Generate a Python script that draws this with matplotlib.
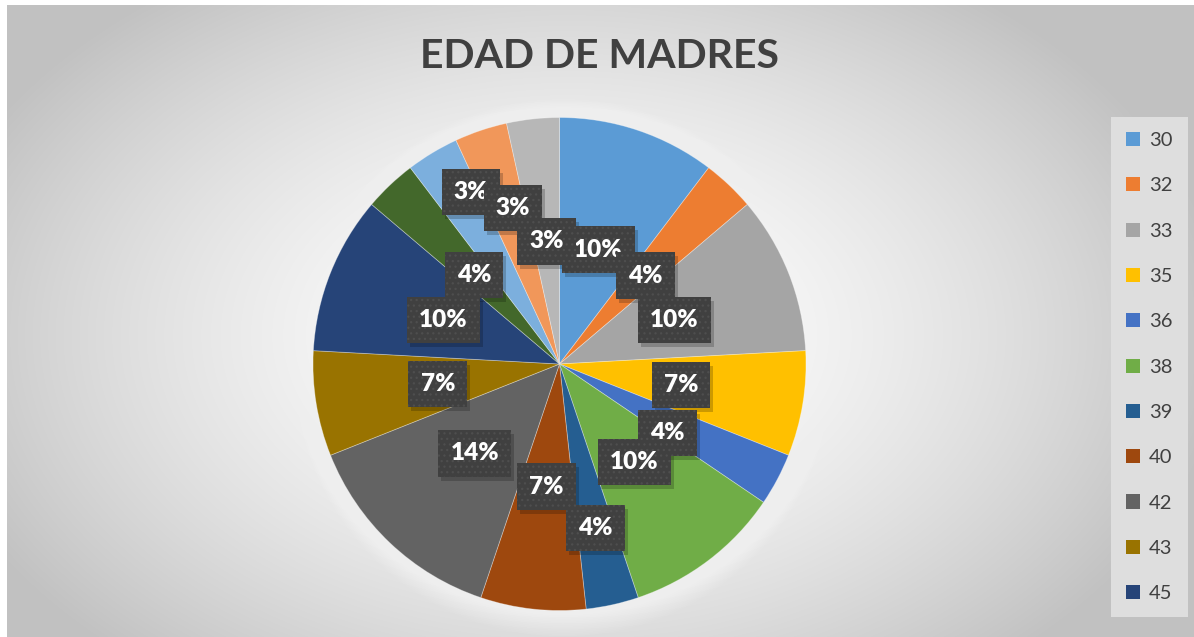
import numpy as np
import matplotlib.pyplot as plt
from matplotlib.patches import Patch, Circle
import matplotlib.transforms as mtransforms

# data (number of mothers per age, 29 in total)
edades = ['30', '32', '33', '35', '36', '38', '39', '40', '42', '43', '45', '46', '47', '48', '49']
madres = [3, 1, 3, 2, 1, 3, 1, 2, 4, 2, 3, 1, 1, 1, 1]
leyenda_visible = 11  # the legend box only shows the first eleven entries

colores = ['#5B9BD5', '#ED7D31', '#A5A5A5', '#FFC000', '#4472C4', '#70AD47',
           '#255E91', '#9E480E', '#636363', '#997300', '#264478', '#43682B',
           '#7CAFDD', '#F1975A', '#B7B7B7']

# label placement ("best fit" look): radial fraction and angle shift in degrees
dist_etiqueta = [0.49, 0.50, 0.50, 0.50, 0.52, 0.50, 0.68, 0.50, 0.50, 0.50, 0.505, 0.50, 0.785, 0.66, 0.50]
giro_etiqueta = [0, -0.7, -0.7, -0.5, -4.6, 0, 0, 0, 0, 0, 1, 0.5, -3.8, -2, 0]


def porcentajes_excel(vals):
    # whole percents that add up to 100 (largest remainder, like Excel does)
    exact = np.array(vals, dtype=float) * 100 / sum(vals)
    base = np.floor(exact).astype(int)
    falta = 100 - base.sum()
    orden = sorted(range(len(vals)), key=lambda i: -(exact[i] - base[i]))
    for i in orden[:falta]:
        base[i] += 1
    return base


W, H = 1194, 637
fig = plt.figure(figsize=(W / 100, H / 100), dpi=100)
fig.patch.set_facecolor('white')

# background with radial gradient
bg = fig.add_axes([7 / W, 0, 1 - 7 / W, 1 - 5 / H])
yy, xx = np.mgrid[0:632, 0:1187]
d = np.sqrt(((xx - 560) / 640.0) ** 2 + ((yy - 330) / 420.0) ** 2)
val = np.clip(1.0 - 0.23 * d ** 1.6, 0.76, 1.0)
bg.imshow(np.dstack([val, val, val]), aspect='auto', interpolation='bilinear')
bg.set_axis_off()

# pie axes
cx, cy, r = 559.5, 364, 246.5
ax = fig.add_axes([(cx - r) / W, (H - cy - r) / H, 2 * r / W, 2 * r / H])

wedges, _ = ax.pie(madres, colors=colores, startangle=90, counterclock=False,
                   radius=1.0, wedgeprops=dict(edgecolor=(1, 1, 1, 0.35), linewidth=0.6))
for w in wedges:
    w.set_zorder(1)
ax.set_xlim(-1, 1)
ax.set_ylim(-1, 1)
ax.set_axis_off()

# soft white glow around the pie
for k in range(14):
    ax.add_patch(Circle((0.015, -0.015), 1.0 + 0.09 * (1 - k / 14), facecolor='white',
                        edgecolor='none', alpha=0.06, zorder=0, clip_on=False))

plt.rcParams['hatch.linewidth'] = 0.9
pct = porcentajes_excel(madres)
shadow = mtransforms.offset_copy(ax.transData, fig=fig, x=3, y=-4, units='dots')
caja = 'square,pad=0.5'
for w, p, dl, dg in zip(wedges, pct, dist_etiqueta, giro_etiqueta):
    ang = np.deg2rad((w.theta1 + w.theta2) / 2 + dg)
    x, y = dl * np.cos(ang), dl * np.sin(ang)
    txt = f'{p}%'
    ax.text(x, y, txt, transform=shadow, ha='center', va='center', fontsize=17.5,
            fontweight='heavy', family='Lato', alpha=0, zorder=3,
            bbox=dict(boxstyle=caja, facecolor=(0, 0, 0, 0.2), edgecolor='none'))
    ax.text(x, y, txt, ha='center', va='center', fontsize=17.5, fontweight='heavy',
            family='Lato', color='white', zorder=4,
            bbox=dict(boxstyle=caja, facecolor='#404040', edgecolor='#4e4e4e',
                      linewidth=0, hatch='...'))

fig.text(600 / W, 1 - 57 / H, 'EDAD DE MADRES', ha='center', va='center',
         fontsize=29.5, fontweight='bold', family='Lato', color='#404040')

handles = [Patch(facecolor=c, edgecolor='none') for c in colores[:leyenda_visible]]
leg = fig.legend(handles, edades[:leyenda_visible], loc='upper left',
                 bbox_to_anchor=(1111 / W, 1 - 117 / H), frameon=True, fancybox=False,
                 fontsize=14.5, labelspacing=1.40, handlelength=0.7, handleheight=0.7,
                 handletextpad=0.45, borderpad=0.75, borderaxespad=0)
leg.get_frame().set_facecolor('#dedede')
leg.get_frame().set_edgecolor('none')
leg.get_frame().set_alpha(1)
for t in leg.get_texts():
    t.set_color('#404040')
    t.set_family('Lato')

fig.savefig('out.png', dpi=100)
